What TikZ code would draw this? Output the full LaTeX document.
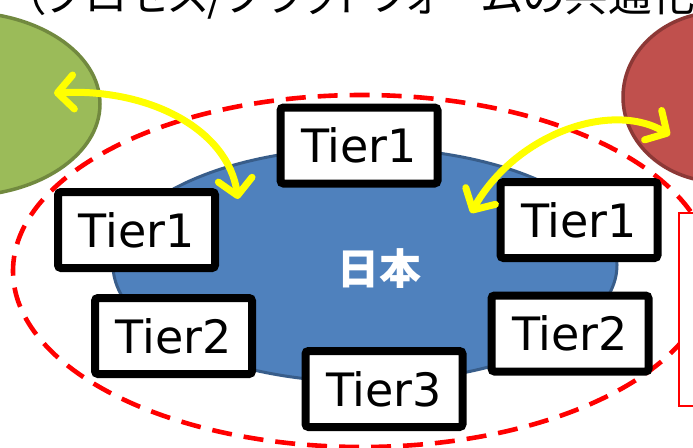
\documentclass[tikz,border=0pt]{standalone}
\usepackage{fontspec}
\setmainfont{DejaVu Sans}
\newfontfamily\jpfont[RawFeature=+palt]{Noto Sans CJK JP}
\usetikzlibrary{shapes.geometric,arrows.meta}
\definecolor{greenfill}{HTML}{9BBB59}
\definecolor{greenline}{HTML}{71893F}
\definecolor{redfill}{HTML}{C0504D}
\definecolor{redline}{HTML}{8C3836}
\definecolor{bluefill}{HTML}{4F81BD}
\definecolor{blueline}{HTML}{385D8A}
\definecolor{dashred}{HTML}{FF0000}
\definecolor{arrowyellow}{HTML}{FFFF00}
\begin{document}
\begin{tikzpicture}[x=1pt,y=-1pt,
  blob/.style={ellipse, inner sep=0pt, line width=3.5pt},
  tierbox/.style={draw=black, line width=8pt, fill=white, rounded corners=3pt,
    minimum width=157pt, minimum height=76pt, inner sep=0pt,
    font=\fontsize{46}{46}\selectfont},
  yarrow/.style={draw=arrowyellow, line width=7pt, line cap=round,
    {Straight Barb[length=16pt,width=34pt,round]}-{Straight Barb[length=16pt,width=34pt,round]}}
]
\useasboundingbox (0,0) rectangle (693,447);
\clip (0,0) rectangle (693,447);

% title (cut at top, as in the reference)
\node[anchor=base west, inner sep=0pt, font=\jpfont\fontsize{43.5}{43.5}\selectfont] (title) at (23,12) {（プロセス/プラットフォームの共通化};

% big ellipses
\node[blob, draw=greenline, fill=greenfill, minimum width=276pt, minimum height=184pt] (green) at (-38,104) {};
\node[blob, draw=redline, fill=redfill, minimum width=194pt, minimum height=170pt] (red) at (720,97) {};
\node[blob, draw=blueline, fill=bluefill, line width=3pt, minimum width=504pt, minimum height=234pt] (blue) at (365,265) {};
\node[font=\jpfont\bfseries\fontsize{42}{42}\selectfont, text=white, inner sep=0pt] (japan) at (379,269) {日本};

% dashed boundary
\node[ellipse, draw=dashred, line width=4.6pt, dash pattern=on 20pt off 12pt, minimum width=698pt, minimum height=352pt, inner sep=0pt] (zone) at (362,271) {};

% red box at right
\node[draw=dashred, line width=1.5pt, fill=white, minimum width=60pt, minimum height=193pt, inner sep=0pt, anchor=north west] (redbox) at (678,212) {};

% tier boxes
\node[tierbox] (t1top) at (359,145.5) {Tier1};
\node[tierbox] (t1left) at (136.5,230) {Tier1};
\node[tierbox] (t1right) at (579,220) {Tier1};
\node[tierbox] (t2left) at (173.5,336) {Tier2};
\node[tierbox] (t2right) at (570,333.5) {Tier2};
\node[tierbox] (t3) at (384,389) {Tier3};

% yellow arrows
\coordinate (gA) at (54,93);
\coordinate (bA) at (238,199);
\coordinate (bB) at (471,213);
\coordinate (rA) at (670,135);
\draw[yarrow] (gA) .. controls (150,88) and (228,130) .. (bA);
\draw[yarrow] (bB) .. controls (515,135) and (610,100) .. (rA);
\end{tikzpicture}
\end{document}
